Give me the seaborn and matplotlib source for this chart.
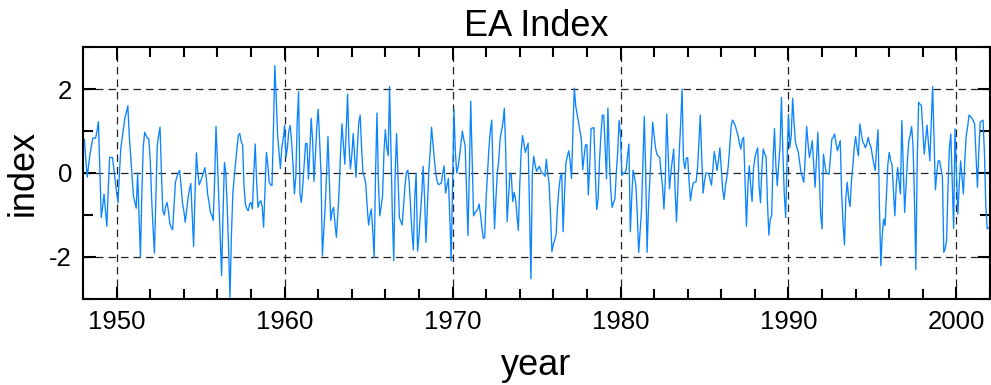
import numpy as np
import pandas as pd
import matplotlib
matplotlib.use("Agg")
import matplotlib.pyplot as plt
from matplotlib.ticker import MultipleLocator
import seaborn as sns

# ==========================================
# DATA - monthly EA index, one line per year (Jan..Dec)
# ==========================================

first_year = 1948

ea_1940s = [
    0.8, 0.8, 0.3, -0.1, 0.2, 0.45, 0.65, 0.83, 0.83, 0.83, 1.0, 1.22,          # 1948
    0.1, -1.06, -0.8, -0.5, -0.9, -1.27, -0.4, 0.37, 0.37, 0.37, 0.1, -0.2,     # 1949
]

ea_1950s = [
    -0.45, -0.71, 0.0, 0.6, 0.85, 1.1, 1.33, 1.45, 1.6, 0.9, 0.41, -0.1,       # 1950
    -0.54, -0.7, -0.84, 0.0, -1.0, -2.0, -0.5, 0.6, 0.97, 0.9, 0.83, 0.81,     # 1951
    0.3, -0.6, -1.3, -1.91, -0.6, 0.65, 0.9, 1.09, 0.0, -0.9, -1.0, -0.8,      # 1952
    -0.7, -0.9, -1.2, -1.3, -1.35, -0.8, -0.22, -0.1, 0.0, 0.06, -0.3, -0.7,   # 1953
    -0.9, -1.17, -0.9, -0.6, -0.4, -0.25, -1.0, -1.75, -0.5, 0.48, 0.0, -0.28, # 1954
    -0.2, -0.1, 0.0, 0.13, -0.1, -0.5, -0.7, -0.94, -1.0, -1.13, -0.2, 1.11,   # 1955
    0.3, -0.6, -1.5, -2.44, -1.0, 0.25, 0.0, -0.8, -1.8, -2.96, -1.5, -0.5,    # 1956
    -0.1, 0.25, 0.6, 0.9, 0.94, 0.75, 0.67, -0.3, -0.74, -0.85, -0.9, -0.74,   # 1957
    -0.7, -0.86, 0.0, 0.69, -0.2, -0.82, -0.7, -0.66, -0.8, -1.29, -0.4, 0.49, # 1958
    0.2, -0.22, -0.28, -0.3, 1.0, 2.56, 1.8, 0.9, 0.5, 0.1, 0.6, 0.8,          # 1959
]

ea_1960s = [
    1.13, 0.37, 0.6, 1.0, 1.13, 0.75, 0.2, -0.5, -0.1, 1.2, 1.94, -0.5,        # 1960
    -0.7, -0.3, 0.2, 0.7, 0.7, -0.14, 0.5, 1.3, 0.8, -0.2, 0.4, 1.1,           # 1961
    1.52, 0.8, 0.0, -1.97, -1.4, -0.8, 0.0, 0.87, -0.2, -1.13, -0.9, -0.82,    # 1962
    -1.2, -1.53, -1.0, -0.4, 0.5, 1.17, 0.7, 0.21, 1.0, 1.88, 0.7, 0.1,        # 1963
    0.4, 0.94, 0.4, -0.1, 0.6, 1.2, 1.38, 0.6, 0.0, -0.1, -0.26, -0.8,         # 1964
    -1.24, -1.0, -0.86, -1.4, -2.0, 0.0, 1.43, -0.2, -1.02, -0.8, -0.54, 0.5,  # 1965
    1.03, 0.6, 0.41, 2.06, 0.5, -1.0, -2.09, 0.0, 0.94, -0.1, -1.06, -1.15,    # 1966
    -1.24, -0.8, -0.3, 0.0, 0.07, -0.2, -0.8, -1.4, -1.83, -0.6, 0.0, -1.86,   # 1967
    -1.5, -1.0, -0.5, 0.16, -0.6, -1.65, -0.8, 0.0, 0.5, 1.09, 0.7, 0.33,      # 1968
    0.0, -0.2, -0.28, -0.26, -0.24, 0.0, 0.17, -0.48, -0.3, -0.13, -1.0, -2.09, # 1969
]

ea_1970s = [
    -0.3, 1.52, 0.5, 0.0, 0.15, 0.4, 0.7, 1.0, 0.8, 0.65, -0.4, -1.49,         # 1970
    0.0, 1.71, 0.3, -1.02, -0.95, -0.9, -0.86, -0.74, -1.0, -1.3, -1.56, -1.53, # 1971
    -0.6, 0.0, 0.6, 1.0, 1.26, -0.2, -1.33, -0.6, 0.0, 0.3, 0.81, 1.0,         # 1972
    1.2, 1.54, 0.5, -1.16, -0.6, 0.0, -0.06, -0.68, -0.46, -0.62, -1.0, -1.37, # 1973
    -0.3, 0.5, 0.89, 0.7, 0.49, 0.6, 0.71, -0.9, -2.52, 0.0, 0.4, 0.2,         # 1974
    0.04, 0.1, 0.16, 0.06, 0.0, -0.02, -0.08, 0.33, 0.0, -0.26, -1.0, -1.87,   # 1975
    -1.7, -1.6, -1.45, -0.8, -0.38, -0.1, 0.0, -1.4, -0.5, 0.24, 0.4, 0.53,    # 1976
    0.3, -0.13, 1.0, 2.02, 1.6, 1.4, 1.2, 1.0, 0.81, 0.08, 0.4, 0.67,          # 1977
    0.67, -0.52, 0.2, 1.06, 1.07, 1.08, 0.0, -0.87, -0.62, 0.3, 0.9, 1.37,     # 1978
    1.38, 0.6, -0.14, 1.55, 0.4, -0.4, -0.82, -0.7, -0.62, 0.0, 0.5, 1.25,     # 1979
]

ea_1980s = [
    0.9, -0.06, 0.0, 0.0, 0.06, 0.4, 0.69, -1.4, -0.6, 0.07, -0.1, -0.3,       # 1980
    -1.0, -1.89, -1.4, -0.9, 0.2, 1.35, 0.0, -1.89, -0.8, -0.14, 0.5, 1.21,    # 1981
    0.9, 0.6, 0.45, 0.4, 0.37, 0.0, -0.3, -0.86, -0.2, 1.4, 0.5, -0.38,        # 1982
    0.0, 0.3, 0.57, -0.4, -1.16, -0.3, 0.5, 1.2, 2.0, 0.3, 0.1, 0.36,          # 1983
    0.36, -0.2, -0.66, -0.4, -0.24, -0.22, -0.21, 0.1, 0.7, 1.38, 0.4, -0.48,  # 1984
    -0.2, 0.0, 0.0, -0.02, -0.15, -0.29, 0.1, 0.51, 0.3, 0.06, 0.3, 0.6,       # 1985
    0.1, -0.4, -0.63, -0.3, -0.1, 0.17, 0.6, 1.1, 1.26, 1.2, 1.13, 1.0,        # 1986
    0.89, 0.7, 0.57, 0.8, 0.85, -0.2, -1.27, -0.3, 0.17, -0.3, -0.68, 0.1,     # 1987
    0.35, 0.5, 0.6, -0.3, -0.71, 0.1, 0.57, 0.45, 0.4, -0.7, -1.48, -1.1,      # 1988
    -1.02, 0.3, 1.06, 0.17, -0.3, 0.2, 0.65, 1.8, 0.5, -0.5, -1.06, 0.3,       # 1989
]

ea_1990s = [
    1.4, 0.61, 0.9, 1.78, 1.2, 0.73, 0.6, 0.5, 0.25, 0.0, -0.1, -0.22,         # 1990
    0.4, 1.11, 0.7, 0.37, 0.55, 0.77, 0.2, -0.34, 0.3, 0.97, 0.0, -1.0,        # 1991
    -1.33, 0.45, 0.2, 0.0, -0.02, -0.03, 0.4, 0.81, 0.85, 0.93, 0.7, 0.53,     # 1992
    0.65, 0.77, -0.5, -1.2, -1.71, -0.6, -0.22, -0.6, -0.8, -0.2, 0.17, 0.6,   # 1993
    0.87, 0.6, 0.41, 1.17, 0.95, 0.75, 0.69, 0.6, 0.7, 0.85, 0.7, 0.61,        # 1994
    0.4, 0.21, 0.06, 0.6, 1.03, -0.8, -2.21, -1.5, -1.1, -1.25, -0.5, 0.2,     # 1995
    0.49, 0.3, 0.2, -0.4, -1.02, -0.3, 0.13, -0.2, -0.5, 1.25, 0.2, -0.94,     # 1996
    -0.3, 0.3, 0.77, 0.9, 1.11, 0.65, -0.6, -2.3, 0.3, 1.68, 1.64, 1.6,        # 1997
    1.0, 0.45, 0.8, 1.14, 0.7, 0.29, 1.2, 2.06, 0.8, -0.4, 0.0, 0.29,          # 1998
    0.29, 0.1, -0.1, -1.89, -1.8, -1.6, -0.3, 0.6, 0.93, -0.2, -1.32, 1.05,    # 1999
]

ea_2000s = [
    0.0, -0.98, -0.3, 0.29, -0.1, -0.5, 0.3, 0.89, 1.1, 1.38, 1.35, 1.31,      # 2000
    1.25, 1.17, 0.4, -0.34, 0.5, 1.21, 1.23, 1.26, 0.5, -0.78, -1.33, -1.3,    # 2001
]

decade_ticks = [1950, 1960, 1970, 1980, 1990, 2000]
index_ticks = [-2, 0, 2]

values = ea_1940s + ea_1950s + ea_1960s + ea_1970s + ea_1980s + ea_1990s + ea_2000s
df = pd.DataFrame({
    "year": first_year + np.arange(len(values)) / 12.0,
    "index": values,
})

# ==========================================
# PLOT
# ==========================================

sns.set_style("ticks")
plt.rcParams["font.family"] = ["Liberation Sans", "DejaVu Sans"]
plt.rcParams["axes.unicode_minus"] = False
plt.rcParams["text.color"] = "black"
plt.rcParams["axes.labelcolor"] = "black"
plt.rcParams["xtick.color"] = "black"
plt.rcParams["ytick.color"] = "black"

fig = plt.figure(figsize=(9.91, 3.85), dpi=100)
ax = fig.add_axes([0.0838, 0.2234, 0.9152, 0.6545])

sns.lineplot(data=df, x="year", y="index", color="#0a84ff", linewidth=0.95, ax=ax)

ax.set_xlim(1948, 2002)
ax.set_ylim(-3, 3)
ax.set_xticks(decade_ticks)
ax.set_yticks(index_ticks)
ax.xaxis.set_minor_locator(MultipleLocator(2))
ax.yaxis.set_minor_locator(MultipleLocator(1))

ax.grid(True, which="major", linestyle=(0, (6, 4)), color="#222222", linewidth=0.9)
ax.set_axisbelow(True)

ax.tick_params(which="both", direction="in", top=True, right=True,
               width=1.5, labelsize=18.5, pad=8)
ax.tick_params(which="major", length=9)
ax.tick_params(which="minor", length=7)
for side in ax.spines.values():
    side.set_linewidth(1.5)
    side.set_color("black")

ax.set_title("EA Index", fontsize=26, pad=8)
ax.set_xlabel("year", fontsize=26, labelpad=10)
ax.set_ylabel("index", fontsize=26, labelpad=6)

fig.savefig("out.png", dpi=100)
